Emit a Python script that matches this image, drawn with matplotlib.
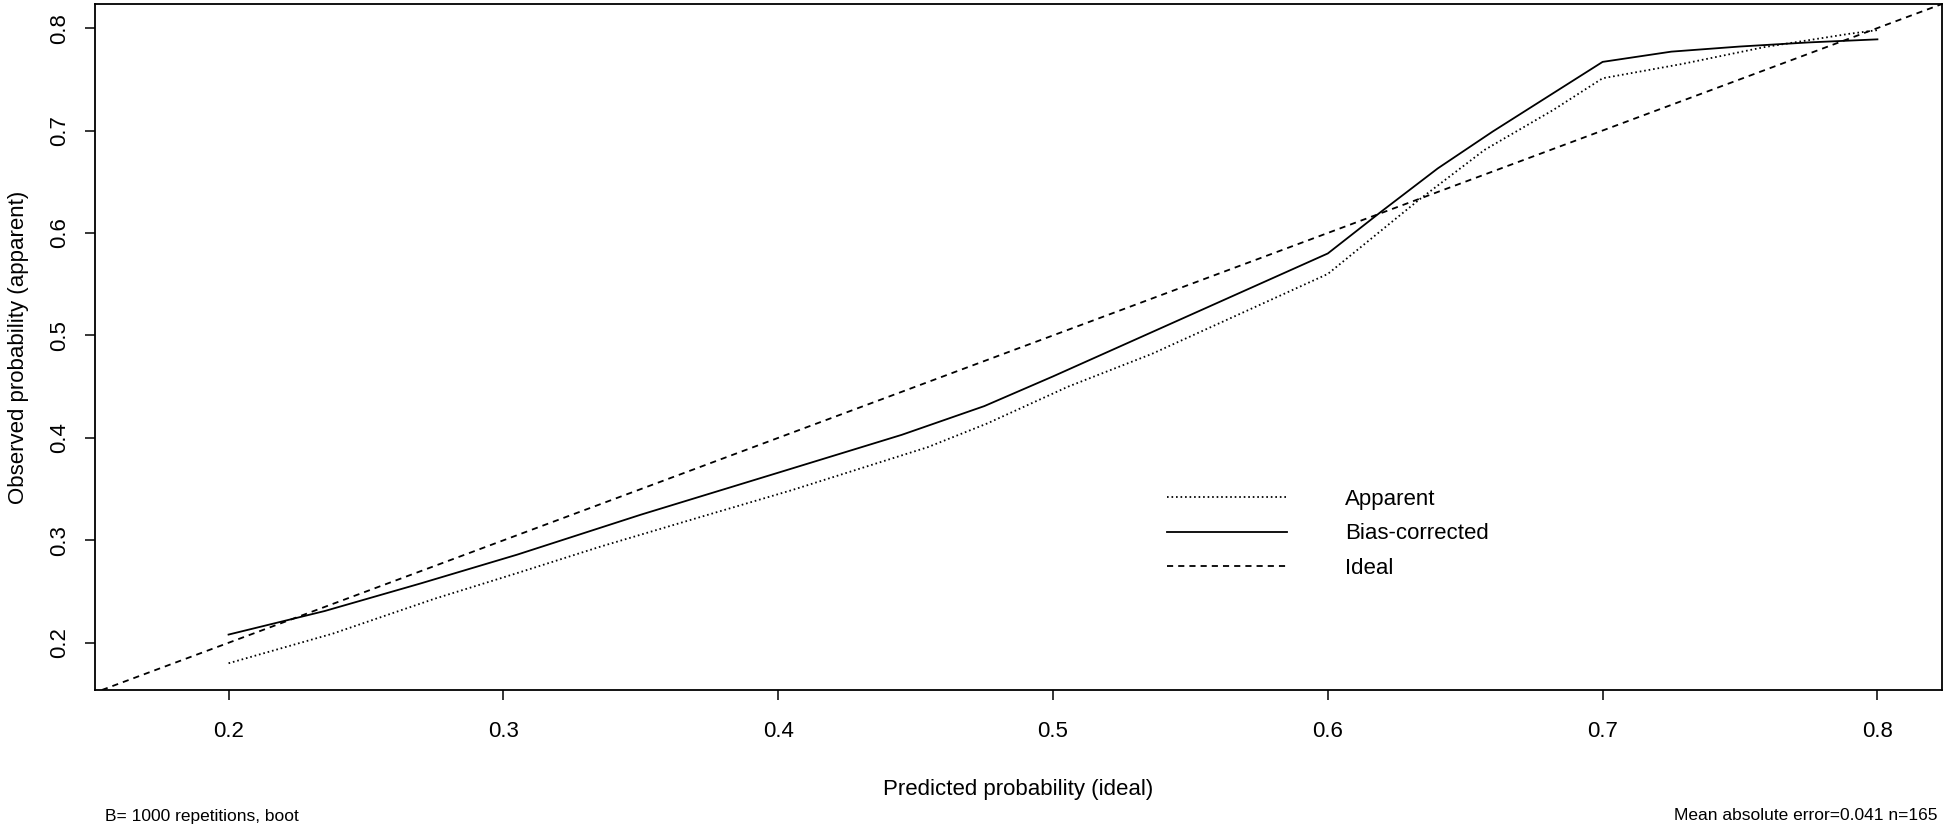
import numpy as np
import matplotlib
matplotlib.use("Agg")
import matplotlib.pyplot as plt

plt.rcParams['font.family'] = ['Liberation Sans', 'DejaVu Sans']

# bias-corrected calibration curve (solid)
bias_x = [0.2, 0.235, 0.27, 0.305, 0.35, 0.4, 0.445, 0.475, 0.5, 0.54,
          0.6, 0.62, 0.64, 0.66, 0.7, 0.725, 0.75, 0.775, 0.8]
bias_y = [0.208, 0.231, 0.258, 0.286, 0.325, 0.366, 0.403, 0.431, 0.460, 0.508,
          0.580, 0.622, 0.663, 0.699, 0.767, 0.777, 0.782, 0.786, 0.789]

# apparent calibration curve (dotted)
app_x = [0.2, 0.238, 0.275, 0.305, 0.3355, 0.372, 0.405, 0.4545, 0.476, 0.5055,
         0.536, 0.6, 0.633, 0.657, 0.682, 0.7, 0.729, 0.759, 0.79, 0.8]
app_y = [0.180, 0.209, 0.243, 0.268, 0.294, 0.323, 0.349, 0.391, 0.414, 0.450,
         0.482, 0.560, 0.632, 0.681, 0.720, 0.751, 0.765, 0.7815, 0.7945, 0.798]

ticks = [0.2, 0.3, 0.4, 0.5, 0.6, 0.7, 0.8]
xlims = (0.1514, 0.8235)
ylims = (0.1539, 0.8235)

fig = plt.figure(figsize=(19.46, 8.26), dpi=100)
ax = fig.add_axes([95 / 1946, 1 - 690 / 826, (1942 - 95) / 1946, (690 - 4) / 826])

lw = 1.3
ax.plot(app_x, app_y, color='black', lw=lw, linestyle=(0, (0.9, 1.6)), label='Apparent')
ax.plot(bias_x, bias_y, color='black', lw=lw, linestyle='-', label='Bias-corrected')
ax.axline((0, 0), slope=1, color='black', lw=lw, linestyle=(0, (3.4, 2.8)), label='Ideal')

ax.set_xlim(xlims)
ax.set_ylim(ylims)
ax.set_xticks(ticks)
ax.set_yticks(ticks)
ax.set_xticklabels([f'{t:.1f}' for t in ticks])
ax.set_yticklabels([f'{t:.1f}' for t in ticks], rotation=90, va='center')
ax.tick_params(axis='both', length=7.2, width=1.1, labelsize=16)
ax.tick_params(axis='x', pad=15)
ax.tick_params(axis='y', pad=11)
for s in ax.spines.values():
    s.set_linewidth(1.3)

ax.set_xlabel('Predicted probability (ideal)', fontsize=16, labelpad=27)
ax.set_ylabel('Observed probability (apparent)', fontsize=16, labelpad=14)

ax.legend(loc='center left', bbox_to_anchor=(0.5805, 0.2275), frameon=False,
          fontsize=16, handlelength=5.4, handletextpad=2.6, labelspacing=0.62,
          borderpad=0, borderaxespad=0)

fig.text(105 / 1946, 1 - 816 / 826, 'B= 1000 repetitions, boot', fontsize=12.5,
         ha='left', va='center')
fig.text(1938 / 1946, 1 - 816 / 826, 'Mean absolute error=0.041 n=165', fontsize=12.5,
         ha='right', va='center')

fig.savefig('out.png', dpi=100)
